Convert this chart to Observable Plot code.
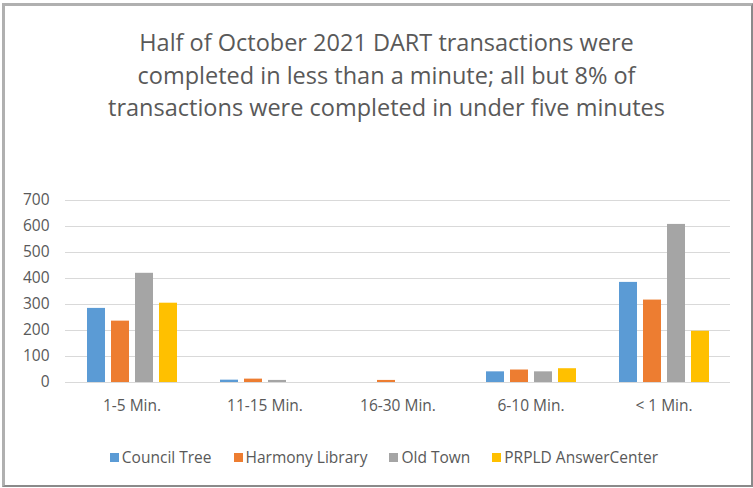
<!DOCTYPE html>
<html>
<head>
<meta charset="utf-8">
<script src="https://cdn.jsdelivr.net/npm/d3@7"></script>
<script src="https://cdn.jsdelivr.net/npm/@observablehq/plot@0.6"></script>
<style>
  html, body { margin: 0; padding: 0; background: #fff; }
  body { width: 753px; height: 488px; position: relative; overflow: hidden; font-family: "Open Sans", sans-serif; }
  #frame { position: absolute; left: 2px; top: 3px; width: 746px; height: 479px;
           border-top: 3px solid #b0b0b0; border-left: 3px solid #b0b0b0;
           border-right: 2px solid #8a8a8a; border-bottom: 2px solid #8a8a8a; }
  #title { position: absolute; left: 20px; top: 26px; width: 733px; text-align: center;
           font-size: 23.5px; line-height: 32.5px; color: #595959; }
  #chart { position: absolute; left: 0; top: 185px; }
  #legend { position: absolute; left: 0; top: 446px; width: 753px; display: flex; justify-content: center;
            font-size: 15.5px; color: #595959; padding-left: 15px; box-sizing: border-box; gap: 22px; }
  .item { display: flex; align-items: center; }
  .sw { width: 9px; height: 9px; margin-right: 3px; }
</style>
</head>
<body>
<div id="frame"></div>
<div id="title">Half of October 2021 DART transactions were<br>completed in less than a minute; all but 8% of<br>transactions were completed in under five minutes</div>
<div id="chart"></div>
<div id="legend"></div>
<script>
const categories = ["1-5 Min.", "11-15 Min.", "16-30 Min.", "6-10 Min.", "< 1 Min."];
const seriesNames = ["Council Tree", "Harmony Library", "Old Town", "PRPLD AnswerCenter"];
const councilTree = [285, 9, 0, 41, 385];
const harmonyLibrary = [236, 13, 8, 48, 317];
const oldTown = [420, 8, 0, 41, 608];
const prpldAnswerCenter = [305, 0, 0, 53, 197];
const colors = ["#5b9bd5", "#ed7d31", "#a5a5a5", "#ffc000"];
const yTicks = [0, 100, 200, 300, 400, 500, 600, 700];

const seriesValues = [councilTree, harmonyLibrary, oldTown, prpldAnswerCenter];
const data = [];
categories.forEach((c, i) => {
  seriesNames.forEach((s, j) => {
    data.push({category: c, series: s, value: seriesValues[j][i]});
  });
});

const chart = Plot.plot({
  width: 753,
  height: 240,
  marginLeft: 64,
  marginRight: 23,
  marginTop: 15,
  marginBottom: 43,
  style: { fontFamily: "Open Sans, sans-serif", fontSize: "15.5px", color: "#595959", background: "transparent" },
  fx: { domain: categories, padding: 0, label: null, tickSize: 0, tickPadding: 17 },
  x: { domain: seriesNames, axis: null, paddingInner: 0.27, paddingOuter: 0.88 },
  y: { domain: [0, 700], ticks: yTicks, label: null, tickSize: 0, tickPadding: 16 },
  color: { domain: seriesNames, range: colors },
  marks: [
    Plot.ruleY(yTicks, { stroke: "#d9d9d9", strokeWidth: 1 }),
    Plot.barY(data, { fx: "category", x: "series", y: "value", fill: "series" })
  ]
});
document.getElementById("chart").appendChild(chart);

const legend = document.getElementById("legend");
seriesNames.forEach((s, i) => {
  const item = document.createElement("div");
  item.className = "item";
  const sw = document.createElement("span");
  sw.className = "sw";
  sw.style.background = colors[i];
  item.appendChild(sw);
  item.appendChild(document.createTextNode(s));
  legend.appendChild(item);
});
</script>
</body>
</html>
